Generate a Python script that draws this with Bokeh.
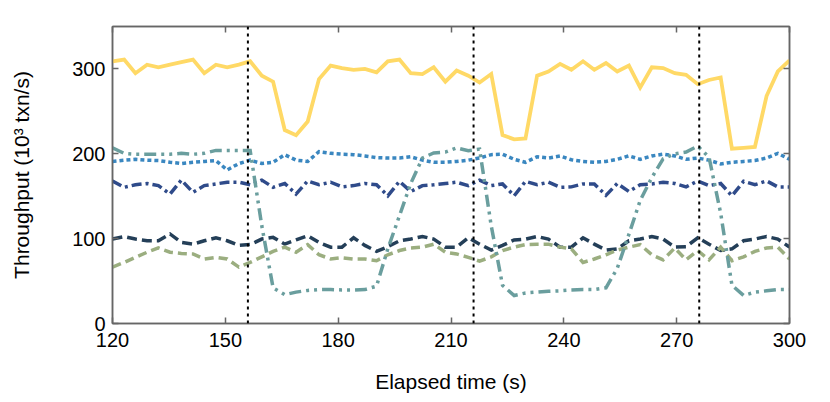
from bokeh.plotting import figure
from bokeh.models import LinearAxis, Span, Range1d, FixedTicker
from bokeh.embed import file_html
from bokeh.resources import INLINE

# sample times (s)
time_s = [120.0, 123.1, 126.1, 129.2, 132.2, 135.3, 138.3, 141.4, 144.4, 147.5,
          150.5, 153.6, 156.6, 159.7, 162.7, 165.8, 168.8, 171.9, 174.9, 178.0,
          181.0, 184.1, 187.1, 190.2, 193.2, 196.3, 199.3, 202.4, 205.4, 208.5,
          211.5, 214.6, 217.6, 220.7, 223.7, 226.8, 229.8, 232.9, 235.9, 239.0,
          242.0, 245.1, 248.1, 251.2, 254.2, 257.3, 260.3, 263.4, 266.4, 269.5,
          272.5, 275.6, 278.6, 281.7, 284.7, 287.8, 290.8, 293.9, 296.9, 300.0]

yellow = [309, 311, 295, 305, 302, 305, 308, 311, 295, 305,
          302, 305, 309, 292, 285, 228, 222, 238, 288, 304,
          301, 299, 300, 296, 309, 311, 295, 294, 302, 285,
          298, 292, 284, 294, 222, 217, 218, 292, 297, 306,
          299, 309, 299, 307, 297, 304, 278, 302, 301, 295,
          293, 282, 287, 290, 206, 207, 208, 268, 297, 310]

light_blue = [191, 192.5, 193.5, 192.5, 192, 190, 188.5, 190, 191, 192,
              181, 188.5, 192.5, 188.5, 190, 199, 192.5, 191, 202.5, 200.5,
              199.5, 199, 197.5, 195.5, 195, 195, 196.5, 192.5, 190, 190,
              191, 192.5, 195, 199, 199.5, 193.5, 190, 196.5, 195, 197.5,
              193, 191, 190, 191, 193.5, 197.5, 193.5, 197.5, 199.5, 197.5,
              193.5, 195, 192.5, 188, 190, 191, 192, 195, 200.5, 193.5]

dark_blue = [168, 160.5, 163.5, 165, 162.5, 152.5, 169, 154.5, 162.5, 164.5,
             166.5, 166.5, 163.5, 169, 160.5, 165, 152.5, 168, 163.5, 166.5,
             161, 162.5, 165, 163.5, 150.5, 167.5, 155.5, 162.5, 163.5, 165,
             166.5, 162.5, 169, 162.5, 164.5, 150.5, 167.5, 163.5, 166.5, 160.5,
             161, 164.5, 164.5, 151, 165, 155.5, 163.5, 164.5, 166.5, 165,
             161, 168, 162.5, 165, 150.5, 167.5, 163.5, 168, 161, 161]

navy = [99.5, 102.5, 99.5, 97.5, 97.5, 105.5, 95.5, 93.5, 97.5, 101,
        97.5, 92, 93, 99.5, 101.5, 93.5, 98.5, 103.5, 95.5, 90,
        90, 101, 92, 85, 90.5, 97.5, 99.5, 102.5, 99.5, 90,
        90, 101, 93.5, 86.5, 92, 98.5, 99.5, 102.5, 99.5, 90,
        90, 101, 93.5, 86.5, 88, 97.5, 99.5, 102.5, 99.5, 90,
        90.5, 101, 93.5, 86, 88, 97.5, 99.5, 102.5, 99.5, 90]

green = [66.5, 72, 78, 84, 89, 84, 82.5, 82, 76, 78,
         76, 66.5, 72, 78.5, 85, 90, 84, 93, 81, 76,
         77.5, 76, 76, 74, 81, 86, 89, 90, 93.5, 84,
         82, 78, 73.5, 78.5, 86, 90, 93, 93.5, 93.5, 90,
         88, 72, 76, 81, 86.5, 90, 93, 81, 75, 89,
         75, 86, 75, 90, 74, 78.5, 85, 89, 90, 76]

teal = [207, 200.5, 199.5, 199.5, 199.5, 199.5, 200.5, 199.5, 200.5, 204,
        204, 204, 204, 115, 42, 34, 37, 39, 40, 40,
        39.5, 39.5, 40, 44, 88, 127, 165, 195, 201, 202,
        207, 203.5, 205.5, 115, 45, 33, 36, 37, 38, 38.5,
        39.5, 40, 40, 42, 65, 105, 145, 172, 194, 200,
        202, 209, 196, 130, 45, 33, 37, 38.5, 40, 40]

event_times = [156, 216, 276]
x_ticks = [120, 150, 180, 210, 240, 270, 300]
y_ticks = [0, 100, 200, 300]

FONT = "Liberation Sans"
FRAME = "#666666"

p = figure(width=814, height=400, output_backend="svg", toolbar_location=None,
           x_range=Range1d(120, 300), y_range=Range1d(0, 350),
           min_border_left=112, min_border_right=25, min_border_top=26,
           min_border_bottom=77)
p.xgrid.visible = False
p.ygrid.visible = False
p.outline_line_color = FRAME
p.outline_line_width = 1.5
p.background_fill_color = "white"
p.border_fill_color = "white"

def style_axis(ax, show_labels):
    ax.axis_line_color = FRAME
    ax.axis_line_width = 1.5
    ax.major_tick_line_color = FRAME
    ax.major_tick_line_width = 1.5
    ax.major_tick_in = 6
    ax.major_tick_out = 0
    ax.minor_tick_line_color = None
    if show_labels:
        ax.major_label_text_font = FONT
        ax.major_label_text_font_size = "20px"
        ax.major_label_text_color = "black"
        ax.axis_label_text_font = FONT
        ax.axis_label_text_font_size = "21px"
        ax.axis_label_text_font_style = "normal"
        ax.axis_label_text_color = "black"
    else:
        ax.major_label_text_font_size = "0px"
        ax.major_label_text_color = None

p.xaxis.ticker = FixedTicker(ticks=x_ticks)
p.yaxis.ticker = FixedTicker(ticks=y_ticks)
p.xaxis.axis_label = "Elapsed time (s)"
p.yaxis.axis_label = "Throughput (10\u00b3 txn/s)"
style_axis(p.xaxis[0], True)
style_axis(p.yaxis[0], True)
p.xaxis.major_label_standoff = 9
p.yaxis.major_label_standoff = 7
p.xaxis.axis_label_standoff = 20
p.yaxis.axis_label_standoff = 36

top = LinearAxis(ticker=FixedTicker(ticks=x_ticks))
right = LinearAxis(ticker=FixedTicker(ticks=y_ticks))
style_axis(top, False)
style_axis(right, False)
p.add_layout(top, "above")
p.add_layout(right, "right")

series = [
    (yellow, "#FFD966", 3.8, "solid"),
    (light_blue, "#3A87C0", 3.5, "4 3"),
    (dark_blue, "#2F4B8A", 3.5, "10 4 3 4"),
    (navy, "#243F58", 3.5, "10 5"),
    (green, "#9BAE80", 3.5, "9 5"),
    (teal, "#6A9E9E", 3.5, "12 5 3 5 3 5"),
]
for vals, col, w, dash in series:
    p.line(time_s, vals, line_color=col, line_width=w, line_dash=dash,
           line_join="miter")

for t in event_times:
    p.add_layout(Span(location=t, dimension="height", line_color="black",
                      line_width=2, line_dash="3 4"))

open("out.html", "w").write(file_html(p, INLINE))
